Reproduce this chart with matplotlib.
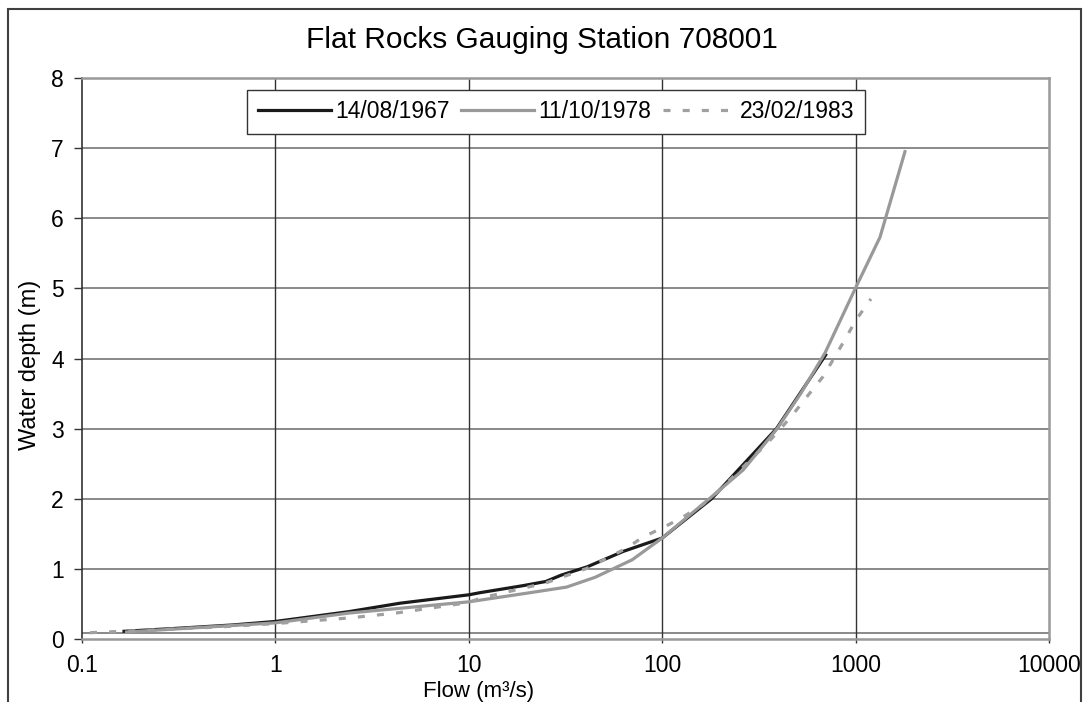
import matplotlib
matplotlib.use('Agg')
import matplotlib.pyplot as plt
from matplotlib.patches import Rectangle
from matplotlib.ticker import FixedLocator, FixedFormatter

# Rating curves (flow m3/s, depth m)
flow_1967 = [0.165, 0.3, 0.6, 1.0, 2.4, 4.4, 10, 11.4, 19, 25, 30, 41, 63, 100, 180, 390, 700]
depth_1967 = [0.11, 0.15, 0.2, 0.25, 0.39, 0.51, 0.63, 0.66, 0.76, 0.82, 0.91, 1.03, 1.25, 1.44, 2.0, 3.0, 4.05]

flow_1978 = [0.17, 1.0, 2.4, 10, 20.7, 32, 45, 70, 100, 177, 262, 393, 520, 695, 993, 1337, 1800]
depth_1978 = [0.10, 0.23, 0.37, 0.53, 0.66, 0.74, 0.88, 1.13, 1.44, 2.01, 2.41, 3.0, 3.5, 4.08, 4.99, 5.73, 6.95]

flow_1983 = [0.11, 0.2, 0.5, 1.0, 2.4, 4.2, 10, 11.4, 25, 41, 66, 79, 103, 128, 161, 199,
             352, 416, 486, 581, 678, 764, 881, 1005, 1200]
depth_1983 = [0.09, 0.12, 0.17, 0.22, 0.30, 0.37, 0.52, 0.58, 0.80, 1.01, 1.30, 1.45, 1.60, 1.74, 1.91, 2.13,
              2.8, 3.02, 3.24, 3.51, 3.74, 3.98, 4.27, 4.55, 4.85]

labels = ['14/08/1967', '11/10/1978', '23/02/1983']
x_ticks = [0.1, 1, 10, 100, 1000, 10000]
x_tick_labels = ['0.1', '1', '10', '100', '1000', '10000']
y_ticks = [0, 1, 2, 3, 4, 5, 6, 7, 8]

plt.rcParams['font.family'] = ['Liberation Sans', 'DejaVu Sans']

fig = plt.figure(figsize=(10.83, 7.02), dpi=100)
ax = fig.add_axes([82 / 1083, 63 / 702, 967 / 1083, 561 / 702])

# outer chart frame
fig.patches.append(Rectangle((8 / 1083, -0.1), 1073 / 1083, 1.1 - 9 / 702,
                             transform=fig.transFigure, fill=False,
                             edgecolor='#404040', linewidth=1.5))

ax.set_xscale('log')
ax.set_xlim(0.1, 10000)
ax.set_ylim(0, 8)

# grid
for y in y_ticks[1:]:
    ax.axhline(y, color='#808080', linewidth=1.3, zorder=1)
ax.axhline(0.09, color='#808080', linewidth=1.3, zorder=1)
for x in x_ticks[1:-1]:
    ax.axvline(x, color='#333333', linewidth=1.0, zorder=1)

ax.plot(flow_1967, depth_1967, color='#1a1a1a', linewidth=2.3, label=labels[0], zorder=3)
ax.plot(flow_1978, depth_1978, color='#999999', linewidth=2.3, label=labels[1], zorder=4)
ax.plot(flow_1983, depth_1983, color='#a0a0a0', linewidth=2.3, dashes=(2.2, 3.8),
        label=labels[2], zorder=5)

ax.xaxis.set_major_locator(FixedLocator(x_ticks))
ax.xaxis.set_major_formatter(FixedFormatter(x_tick_labels))
ax.xaxis.set_minor_locator(FixedLocator([]))
ax.set_yticks(y_ticks)
ax.tick_params(axis='y', direction='out', length=6, width=1, color='#333333',
               labelsize=16.5, pad=7)
ax.tick_params(axis='x', direction='out', length=3, width=1, color='#333333',
               labelsize=16.5, pad=8)

for side in ['top', 'right', 'bottom']:
    ax.spines[side].set_color('#999999')
    ax.spines[side].set_linewidth(1.8)
ax.spines['left'].set_color('#333333')
ax.spines['left'].set_linewidth(1.2)

ax.set_xlabel('Flow (m³/s)', fontsize=16)
ax.xaxis.label.set_va('center')
ax.xaxis.set_label_coords((479 - 82) / 967, (639 - 691) / 561)
ax.set_ylabel('Water depth (m)', fontsize=17)
ax.yaxis.label.set_va('center')
ax.yaxis.set_label_coords((30 - 82) / 967, (639 - 365) / 561)

fig.text(0.5, 1 - 40 / 702, 'Flat Rocks Gauging Station 708001', ha='center', va='center', fontsize=21.5)

leg = ax.legend(loc='upper center', bbox_to_anchor=((556 - 82) / 967, (639 - 90) / 561), ncol=3,
                fontsize=16.5, frameon=True, fancybox=False, handlelength=3.2, handletextpad=0.17,
                columnspacing=0.5, borderpad=0.45, borderaxespad=0)
leg.get_frame().set_edgecolor('#333333')
leg.get_frame().set_linewidth(1.0)
leg.get_frame().set_alpha(1)

fig.savefig('out.png', dpi=100)
